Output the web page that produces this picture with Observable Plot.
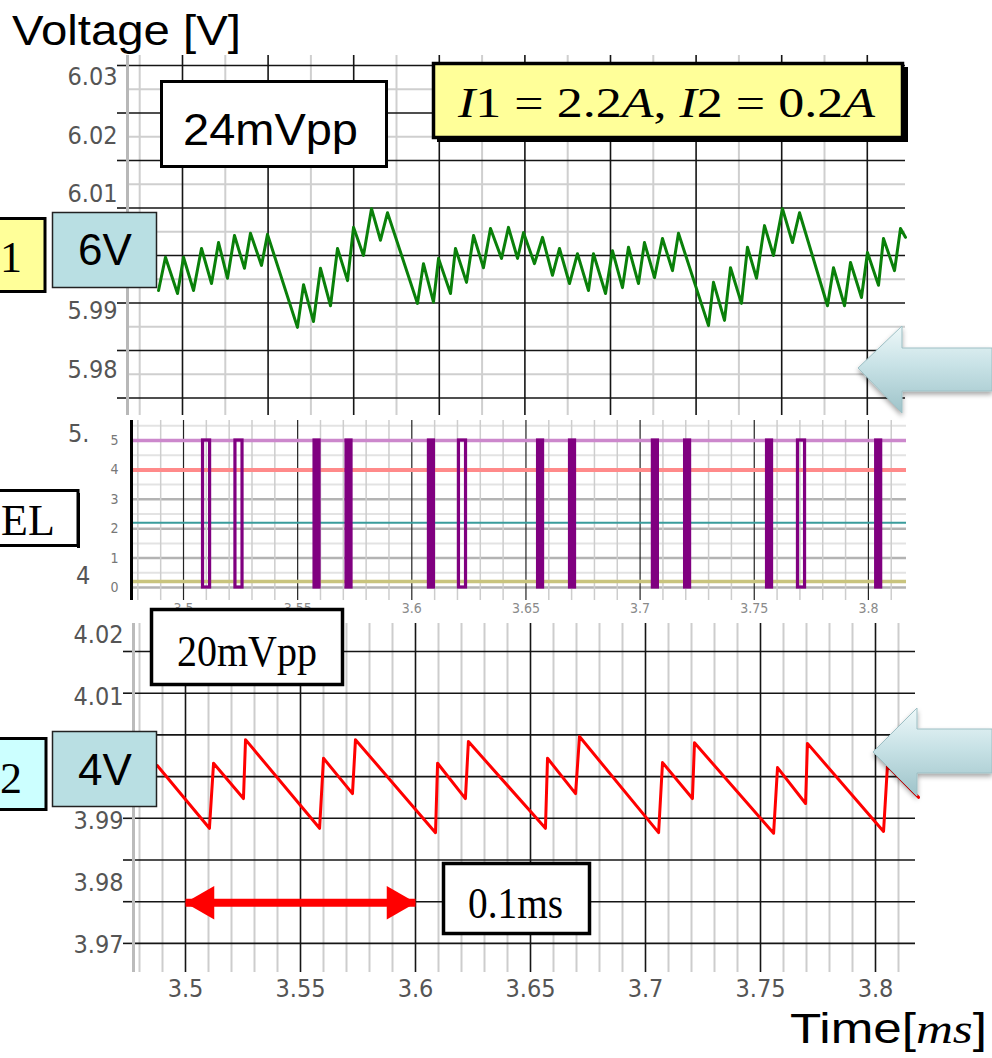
<!DOCTYPE html>
<html>
<head>
<meta charset="utf-8">
<script src="https://cdn.jsdelivr.net/npm/d3@7"></script>
<script src="https://cdn.jsdelivr.net/npm/@observablehq/plot@0.6"></script>
<style>
  html, body { margin: 0; padding: 0; background: #fff; }
  #page { position: relative; width: 992px; height: 1058px; overflow: hidden; background: #fff; }
</style>
</head>
<body>
<div id="page"></div>
<script>
// ---------------- DATA ----------------
// Top trace (output 1, green): time in grid divisions, voltage in V
const greenT = [-0.280,-0.199,-0.058,0.012,0.129,0.222,0.339,0.421,0.526,0.607,
  0.724,0.794,0.923,0.993,1.343,1.414,1.530,1.612,1.729,1.811,
  1.928,1.998,2.114,2.208,2.313,2.395,2.745,2.815,2.932,2.991,
  3.131,3.189,3.318,3.400,3.516,3.598,3.727,3.808,3.914,3.984,
  4.112,4.206,4.322,4.404,4.521,4.614,4.743,4.801,4.942,5.023,
  5.140,5.210,5.327,5.397,5.514,5.607,5.724,5.794,6.145,6.203,
  6.332,6.402,6.530,6.600,6.706,6.799,6.904,7.009,7.126,7.208,
  7.535,7.605,7.734,7.804,7.932,8.002,8.131,8.189,8.318,8.388,8.446];
const greenV = [5.9935,5.9992,5.9930,5.9992,5.9935,6.0007,5.9947,6.0017,5.9956,6.0029,
  5.9973,6.0033,5.9978,6.0031,5.9872,5.9945,5.9882,5.9973,5.9909,6.0007,
  5.9952,6.0043,5.9995,6.0075,6.0021,6.0068,5.9913,5.9981,5.9915,5.9990,
  5.9930,6.0007,5.9949,6.0029,5.9974,6.0041,5.9990,6.0043,5.9990,6.0034,
  5.9981,6.0026,5.9961,6.0007,5.9947,5.9998,5.9935,5.9998,5.9930,6.0003,
  5.9940,6.0009,5.9947,6.0017,5.9957,6.0024,5.9969,6.0033,5.9875,5.9949,
  5.9884,5.9974,5.9913,6.0009,5.9956,6.0046,5.9995,6.0075,6.0017,6.0068,
  5.9909,5.9974,5.9909,5.9983,5.9923,6.0000,5.9944,6.0024,5.9969,6.0041,6.0026];

// Bottom trace (output 2, red): time in ms, voltage in V
const redT = [3.4878,3.5104,3.5122,3.5252,3.5261,3.5583,3.5600,3.5726,3.5739,3.6087,
  3.6096,3.6217,3.6230,3.6565,3.6574,3.6696,3.6713,3.7057,3.7074,3.7204,
  3.7213,3.7557,3.7574,3.7696,3.7704,3.8035,3.8052,3.8187];
const redV = [3.9990,3.9889,3.9994,3.9937,4.0032,3.9889,4.0002,3.9945,4.0032,3.9882,
  3.9994,3.9937,4.0029,3.9889,4.0002,3.9945,4.0037,3.9882,3.9995,3.9937,
  4.0027,3.9881,3.9987,3.9929,4.0026,3.9884,3.9990,3.9939];

// SEL signal pulses (centre time in ms, duration in ms, drawing kind)
const selPulseT = [3.5101,3.5243,3.5585,3.5725,3.6086,3.6222,3.6564,3.6704,3.7067,3.7208,3.7567,3.7707,3.8045];
const selPulseDur = [0.0031,0.0031,0.0022,0.0022,0.0022,0.0031,0.0022,0.0022,0.0022,0.0022,0.0022,0.0031,0.0022];
const selPulseKind = ["hollow","hollow","solid","solid","solid","hollow","solid","solid","solid","solid","solid","hollow","solid"];
const selHigh = 5, selLow = 0;
const selRefV = [5, 4, 2.2, 0.2];

// Tick labels (visible ones)
const topTickLabels = [6.03, 6.02, 6.01, 5.99, 5.98];
const botTickLabels = [4.02, 4.01, 3.99, 3.98, 3.97];
const timeTicks = [3.5, 3.55, 3.6, 3.65, 3.7, 3.75, 3.8];
const selTicks = [0, 1, 2, 3, 4, 5];

// 0.1 ms span marker
const spanStart = 3.5, spanEnd = 3.6, spanV = 3.9769;

// ---------------- STYLE ----------------
const tickFont = '"Liberation Sans Narrow","DejaVu Sans Condensed","Arial Narrow",sans-serif';
const tickColor = "#555";
const selRefColor = ["#cc88cc", "#ff8a8a", "#3a9c9c", "#c9c47e"];
const selRefWidth = [3.5, 4, 2, 3.5];

const page = document.getElementById("page");
function place(el, left, top) {
  el.style.position = "absolute";
  el.style.left = left + "px";
  el.style.top = top + "px";
  page.appendChild(el);
}

// ---------------- TOP PANEL ----------------
const topX = [-0.6425, 8.4463];
const topY = [5.97214, 6.03368];
const topGridBase = 5.99949, topGridStep = 0.00812;
const topHBlack = d3.range(-3, 5).map(k => topGridBase + k * topGridStep);
const topHGray = d3.range(-3, 4).map(k => topGridBase + (k + 0.5) * topGridStep);
const topVBlack = d3.range(0, 9);
const topVGray = d3.range(-1, 8).map(k => k + 0.5);
const green = greenT.map((t, i) => ({t, v: greenV[i]}));

const topPlot = Plot.plot({
  width: 992, height: 400,
  marginTop: 15, marginBottom: 25, marginLeft: 127, marginRight: 87,
  x: {domain: topX, axis: null},
  y: {domain: topY},
  style: {background: "transparent", overflow: "visible"},
  marks: [
    Plot.ruleX(topVGray, {stroke: "#cfcfcf", strokeWidth: 2}),
    Plot.ruleY(topHGray, {stroke: "#cfcfcf", strokeWidth: 2}),
    Plot.ruleX(topVBlack, {stroke: "#151515", strokeWidth: 1.6}),
    Plot.ruleY(topHBlack, {stroke: "#151515", strokeWidth: 1.6}),
    Plot.axisY({ticks: topHBlack, tickSize: 10, tickFormat: () => "", label: null, stroke: "#151515", strokeWidth: 1.6}),
    Plot.ruleX([topX[0]], {stroke: "#b8b8b8", strokeWidth: 3}),
    Plot.line(green, {x: "t", y: "v", stroke: "#0a800a", strokeWidth: 3}),
    Plot.text(topTickLabels, {x: () => topX[0], y: d => d, text: d => d.toFixed(2), dx: -10,
      textAnchor: "end", fontSize: 25, fontFamily: tickFont, fill: tickColor})
  ]
});
place(topPlot, 0, 40);

// ---------------- BOTTOM PANEL ----------------
const botX = [3.477391, 3.817391];
const botY = [3.965645, 4.021935];
const botGridBase = 4.01742, botGridStep = 0.006726;
const botHBlack = d3.range(0, 8).map(k => botGridBase - k * botGridStep);
const fineT = d3.range(348, 382).filter(i => i % 5 !== 0).map(i => i / 100);
const red = redT.map((t, i) => ({t, v: redV[i]}));
const span = [{t1: spanStart, t2: spanEnd, v: spanV}];

const botPlot = Plot.plot({
  width: 992, height: 450,
  marginTop: 73, marginBottom: 28, marginLeft: 133, marginRight: 77,
  x: {domain: botX, axis: null},
  y: {domain: botY},
  style: {background: "transparent", overflow: "visible"},
  marks: [
    Plot.ruleX(fineT, {stroke: "#cdcdcd", strokeWidth: 2}),
    Plot.ruleX(timeTicks, {stroke: "#151515", strokeWidth: 1.6}),
    Plot.ruleY(botHBlack, {stroke: "#151515", strokeWidth: 1.6}),
    Plot.axisY({ticks: botHBlack, tickSize: 10, tickFormat: () => "", label: null, stroke: "#151515", strokeWidth: 1.6}),
    Plot.ruleX([botX[0]], {stroke: "#bbbbbb", strokeWidth: 3}),
    Plot.line(red, {x: "t", y: "v", stroke: "#ff0000", strokeWidth: 3}),
    Plot.link(span, {x1: "t1", x2: "t2", y1: "v", y2: "v", stroke: "#ff0000", strokeWidth: 8}),
    Plot.dot(span, {x: "t1", y: "v", symbol: "triangle", r: 12.5, rotate: -90, fill: "#ff0000", dx: 19}),
    Plot.dot(span, {x: "t2", y: "v", symbol: "triangle", r: 12.5, rotate: 90, fill: "#ff0000", dx: -19}),
    Plot.text(botTickLabels, {x: () => botX[0], y: d => d, text: d => d.toFixed(2), dx: -10,
      textAnchor: "end", fontSize: 25, fontFamily: tickFont, fill: tickColor}),
    Plot.text(timeTicks, {x: d => d, y: () => botY[0], text: d => String(d), dy: 16,
      fontSize: 25, fontFamily: tickFont, fill: tickColor})
  ]
});
place(botPlot, 0, 550);

// ---------------- MIDDLE PANEL (SEL) ----------------
const midX = [3.47722, 3.81669];
const midY = [-0.442, 5.680];
const pulses = selPulseT.map((t, i) => ({
  t1: t - selPulseDur[i] / 2, t2: t + selPulseDur[i] / 2, kind: selPulseKind[i]
}));
const midMarks = [
  Plot.ruleY(d3.range(0, 6).map(k => k + 0.5), {stroke: "#e3e3e3", strokeWidth: 2}),
  Plot.ruleY(selTicks, {stroke: "#b3b3b3", strokeWidth: 2.5}),
  Plot.ruleX(fineT, {stroke: "#cdcdcd", strokeWidth: 1.5}),
  Plot.ruleX(timeTicks, {stroke: "#222", strokeWidth: 1.2})
];
selRefV.forEach((v, i) => midMarks.push(Plot.ruleY([v], {stroke: selRefColor[i], strokeWidth: selRefWidth[i]})));
midMarks.push(
  Plot.rect(pulses.filter(d => d.kind === "solid"), {x1: "t1", x2: "t2", y1: () => selLow, y2: () => selHigh,
    fill: "#800080", stroke: "#800080", strokeWidth: 3.2}),
  Plot.rect(pulses.filter(d => d.kind === "hollow"), {x1: "t1", x2: "t2", y1: () => selLow, y2: () => selHigh,
    fill: "none", stroke: "#800080", strokeWidth: 3.2}),
  Plot.ruleX([midX[0]], {stroke: "#000", strokeWidth: 3}),
  Plot.text(selTicks, {x: () => midX[0], y: d => d, text: d => String(d), dx: -13, textAnchor: "end",
    fontSize: 14, fontFamily: tickFont, fill: "#777"}),
  Plot.text(timeTicks, {x: d => d, y: () => midY[0], text: d => String(d), dy: 8,
    fontSize: 14, fontFamily: tickFont, fill: "#8a8a8a"})
);
const midPlot = Plot.plot({
  width: 838, height: 205,
  marginTop: 5, marginBottom: 20, marginLeft: 39, marginRight: 24,
  x: {domain: midX, axis: null},
  y: {domain: midY, axis: null},
  style: {background: "#fff", overflow: "visible"},
  marks: midMarks
});
place(midPlot, 92, 415);

// ---------------- ANNOTATIONS ----------------
const ov = document.createElement("div");
ov.innerHTML = `
<svg width="992" height="1058" xmlns="http://www.w3.org/2000/svg" font-family="Liberation Sans, Arial, sans-serif">
 <defs>
  <linearGradient id="ag" x1="0" y1="0" x2="0" y2="1">
   <stop offset="0" stop-color="#eef8f9"/>
   <stop offset="0.45" stop-color="#c8e2e6"/>
   <stop offset="1" stop-color="#9ec3c9"/>
  </linearGradient>
  <filter id="sh" x="-20%" y="-20%" width="140%" height="160%">
   <feDropShadow dx="0" dy="3" stdDeviation="2.5" flood-color="#000" flood-opacity="0.35"/>
  </filter>
 </defs>
 <text x="12" y="45" font-size="43" textLength="229" lengthAdjust="spacingAndGlyphs">Voltage [V]</text>

 <text x="68" y="442" font-family='${tickFont}' font-size="25" fill="${tickColor}">5.</text>
 <text x="76" y="584" font-family='${tickFont}' font-size="25" fill="${tickColor}">4</text>

 <rect x="161.5" y="81.5" width="225" height="85" fill="#fff" stroke="#000" stroke-width="3"/>
 <text x="183" y="145" font-size="44" textLength="175" lengthAdjust="spacingAndGlyphs">24mVpp</text>

 <rect x="437" y="67" width="471" height="75" fill="#000"/>
 <rect x="433.5" y="63.5" width="469" height="74" fill="#ffff99" stroke="#000" stroke-width="3.5"/>
 <text x="458" y="117" font-family="Liberation Serif, DejaVu Serif, serif" font-size="42" textLength="417" lengthAdjust="spacingAndGlyphs"><tspan font-style="italic">I</tspan>1 = 2.2<tspan font-style="italic">A</tspan>, <tspan font-style="italic">I</tspan>2 = 0.2<tspan font-style="italic">A</tspan></text>

 <rect x="-3" y="218.5" width="48" height="73" fill="#ffff99" stroke="#000" stroke-width="3"/>
 <text x="0" y="272" font-family="Liberation Serif, serif" font-size="44">1</text>
 <rect x="52.5" y="212.5" width="104" height="75" fill="#b9dfe3" stroke="#222" stroke-width="1.5"/>
 <text x="78" y="265" font-size="44">6V</text>

 <rect x="-3" y="490.5" width="81" height="55" fill="#fff" stroke="#000" stroke-width="3"/>
 <rect x="77" y="493" width="3" height="55" fill="#000"/>
 <text x="1" y="535" font-family="Liberation Serif, serif" font-size="44">EL</text>

 <rect x="151.5" y="609.5" width="191" height="75" fill="#fff" stroke="#000" stroke-width="3.5"/>
 <text x="177" y="666" font-family="Liberation Serif, serif" font-size="44" textLength="140" lengthAdjust="spacingAndGlyphs">20mVpp</text>

 <rect x="-3" y="738.5" width="49" height="71" fill="#ccffff" stroke="#000" stroke-width="3"/>
 <text x="0" y="793" font-family="Liberation Serif, serif" font-size="44">2</text>
 <rect x="52.5" y="731.5" width="104" height="75" fill="#b9dfe3" stroke="#222" stroke-width="1.5"/>
 <text x="78" y="785" font-size="44">4V</text>

 <rect x="443.5" y="863.5" width="146" height="70" fill="#fff" stroke="#000" stroke-width="3.5"/>
 <text x="468" y="918" font-family="Liberation Serif, serif" font-size="44" textLength="95" lengthAdjust="spacingAndGlyphs">0.1ms</text>

 <polygon points="858,368 902,326 902,348 992,348 992,391 902,391 902,413" fill="url(#ag)" stroke="#9dbfc4" stroke-width="1" filter="url(#sh)"/>
 <polygon points="873,752 917,708 917,729 992,729 992,773 917,773 917,796" fill="url(#ag)" stroke="#9dbfc4" stroke-width="1" filter="url(#sh)"/>

 <text x="790" y="1043" font-size="42" textLength="197" lengthAdjust="spacingAndGlyphs"><tspan>Time[</tspan><tspan font-family="Liberation Serif, serif" font-style="italic">ms</tspan><tspan>]</tspan></text>
</svg>`;
const ovSvg = ov.firstElementChild;
place(ovSvg, 0, 0);
</script>
</body>
</html>
